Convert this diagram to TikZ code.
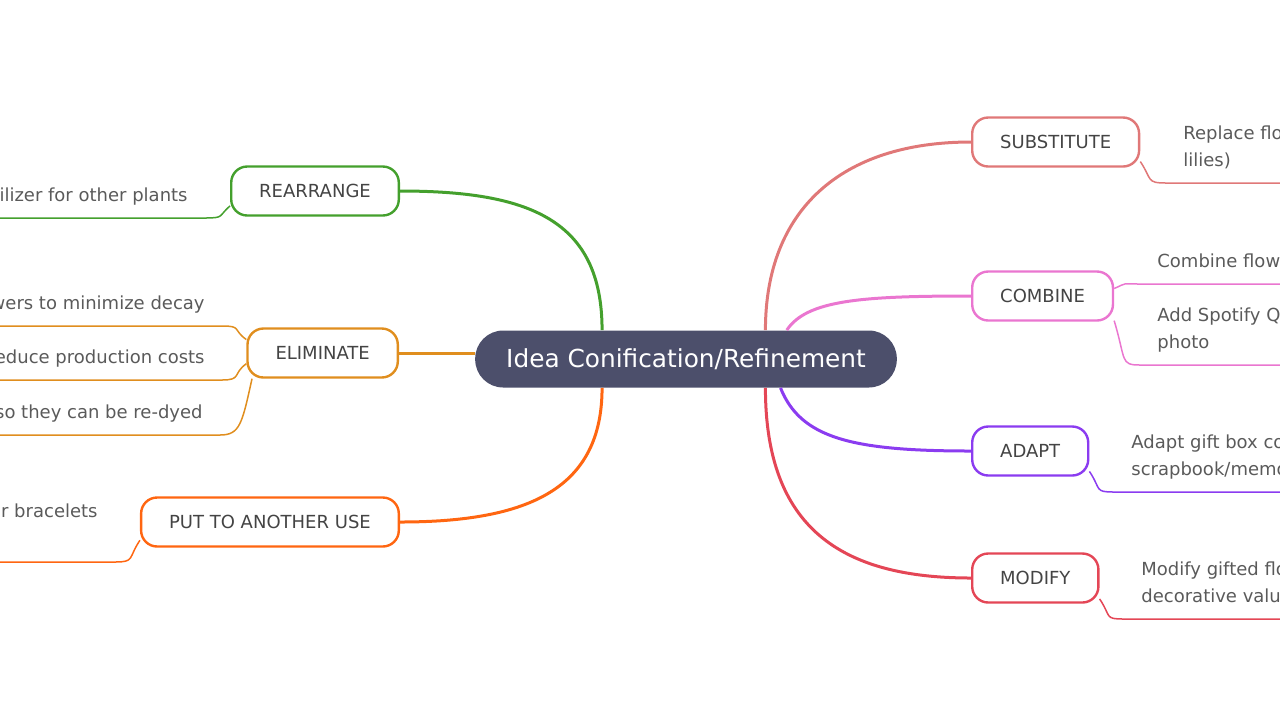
\documentclass[tikz,border=0pt]{standalone}
\usepackage{fontspec}
\setmainfont{DejaVu Sans}

\begin{document}
\begin{tikzpicture}[x=0.5pt, y=-0.5pt,
  central/.style={fill=centerbg, text=white, rounded corners=14pt, minimum height=28.5pt, inner xsep=15.5pt, font=\fontsize{12.4}{15}\selectfont},
  topic/.style={draw, fill=white, line width=1.2pt, rounded corners=8pt, minimum height=24.5pt, inner xsep=14pt, text=topictext, font=\fontsize{9}{11}\selectfont},
  leaf/.style={text=leaftext, font=\fontsize{9}{13.5}\selectfont, align=left, text depth=0pt, inner xsep=8.5pt, inner ysep=8pt},
  branch/.style={line width=1.5pt},
  twig/.style={line width=0.75pt}]
  % colours
  \definecolor{centerbg}{RGB}{76,79,107}
  \definecolor{topictext}{RGB}{68,68,68}
  \definecolor{leaftext}{RGB}{90,90,90}
  \definecolor{rearr}{RGB}{68,160,45}
  \definecolor{elim}{RGB}{224,142,30}
  \definecolor{putuse}{RGB}{255,102,17}
  \definecolor{subst}{RGB}{224,120,120}
  \definecolor{comb}{RGB}{234,118,208}
  \definecolor{adapt}{RGB}{139,60,240}
  \definecolor{modif}{RGB}{228,70,86}

  \useasboundingbox (0,0) rectangle (1280,720);
  \coordinate (edgeL) at (0,0);
  \coordinate (edgeR) at (1280,0);

  % centre
  \node[central] (c) at (686,359) {Idea Conification/Refinement};

  % topics, left
  \node[topic, draw=rearr, anchor=east] (t1) at (400,191) {REARRANGE};
  \node[topic, draw=elim, anchor=east] (t2) at (399,353) {ELIMINATE};
  \node[topic, draw=putuse, anchor=east] (t3) at (400,522) {PUT TO ANOTHER USE};

  % topics, right
  \node[topic, draw=subst, anchor=west] (t4) at (971,142) {SUBSTITUTE};
  \node[topic, draw=comb, anchor=west] (t5) at (971,296) {COMBINE};
  \node[topic, draw=adapt, anchor=west] (t6) at (971,451) {ADAPT};
  \node[topic, draw=modif, anchor=west] (t7) at (971,578) {MODIFY};

  % branches
  \draw[branch, rearr] (c.161) .. controls +(0,-110) and +(130,0) .. (t1.east);
  \draw[branch, elim] (t2.east -| c.west) -- (t2.east);
  \draw[branch, putuse] (c.199) .. controls +(0,100) and +(130,0) .. (t3.east);
  \draw[branch, subst] (c.20) .. controls +(0,-120) and +(-130,0) .. (t4.west);
  \draw[branch, comb] (c.16) .. controls +(20,-30) and +(-110,0) .. (t5.west);
  \draw[branch, adapt] (c.343) .. controls +(20,50) and +(-120,0) .. (t6.west);
  \draw[branch, modif] (c.340) .. controls +(0,140) and +(-130,0) .. (t7.west);

  % leaves, left
  \node[leaf, anchor=south east] (l1) at (205,218) {ilizer for other plants};
  \node[leaf, anchor=south east] (l2) at (222,326) {wers to minimize decay};
  \node[leaf, anchor=south east] (l3) at (222,380) {educe production costs};
  \node[leaf, anchor=south east] (l4) at (220,435) {so they can be re-dyed};
  \node[leaf, anchor=south east, inner ysep=22pt] (l5) at (115,562) {r bracelets};

  \draw[twig, rearr] (t1.190) .. controls +(-12,10) and +(20,0) .. (l1.south east) -- (l1.south east -| edgeL);
  \draw[twig, elim] (t2.170) .. controls +(-14,-10) and +(20,0) .. (l2.south east) -- (l2.south east -| edgeL);
  \draw[twig, elim] (t2.188) .. controls +(-14,10) and +(20,0) .. (l3.south east) -- (l3.south east -| edgeL);
  \draw[twig, elim] (t2.200) .. controls +(-10,45) and +(20,0) .. (l4.south east) -- (l4.south east -| edgeL);
  \draw[twig, putuse] (t3.188) .. controls +(-12,18) and +(20,0) .. (l5.south east) -- (l5.south east -| edgeL);

  % leaves, right
  \node[leaf, anchor=south west] (r1) at (1166,183) {Replace flo\\lilies)};
  \node[leaf, anchor=south west] (r2) at (1140,284) {Combine flowe};
  \node[leaf, anchor=south west] (r3) at (1140,365) {Add Spotify Q\\photo};
  \node[leaf, anchor=south west] (r4) at (1114,492) {Adapt gift box co\\scrapbook/memo};
  \node[leaf, anchor=south west] (r5) at (1124,619) {Modify gifted flo\\decorative valu};

  \draw[twig, subst] (t4.347) .. controls +(12,18) and +(-20,0) .. (r1.south west) -- (r1.south west -| edgeR);
  \draw[twig, comb] (t5.6) .. controls +(14,-6) and +(-20,0) .. (r2.south west) -- (r2.south west -| edgeR);
  \draw[twig, comb] (t5.341) .. controls +(12,40) and +(-20,0) .. (r3.south west) -- (r3.south west -| edgeR);
  \draw[twig, adapt] (t6.341) .. controls +(12,18) and +(-20,0) .. (r4.south west) -- (r4.south west -| edgeR);
  \draw[twig, modif] (t7.342) .. controls +(12,18) and +(-20,0) .. (r5.south west) -- (r5.south west -| edgeR);

\end{tikzpicture}
\end{document}
